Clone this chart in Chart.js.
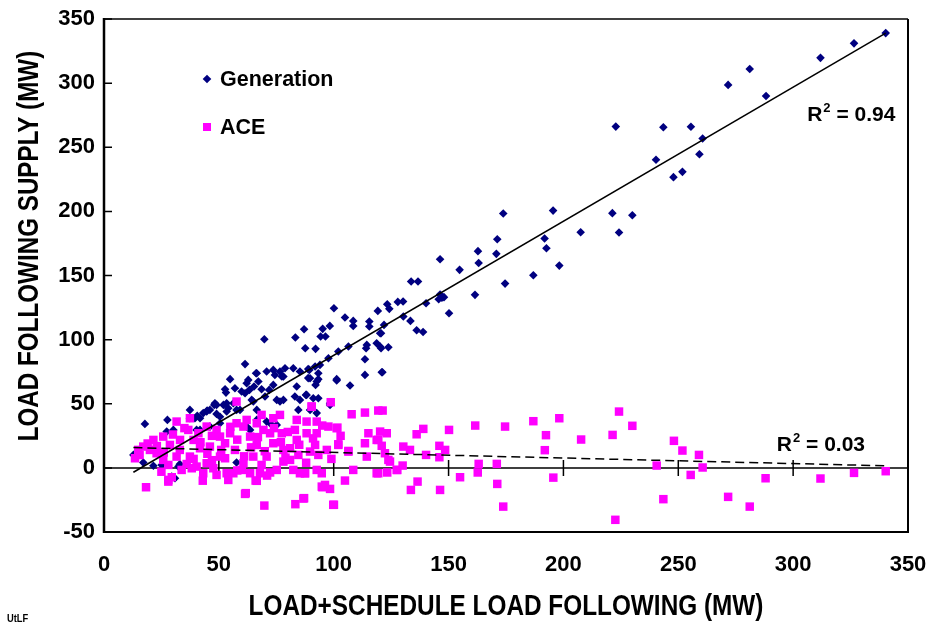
<!DOCTYPE html>
<html>
<head>
<meta charset="utf-8">
<script src="https://cdn.jsdelivr.net/npm/chart.js@4.4.1/dist/chart.umd.min.js"></script>
<style>
  html, body { margin: 0; padding: 0; background: #ffffff; }
  #wrap { width: 930px; height: 626px; position: relative; }
</style>
</head>
<body>
<div id="wrap"><canvas id="c" width="930" height="626"></canvas></div>
<script>
// ---------- DATA ----------
const generationX = [
  340.3, 326.5, 311.9, 281.1, 271.7, 288.2, 243.5, 255.5, 222.8, 260.6, 259.2, 240.3, 247.9, 251.8,
  173.8, 195.5, 221.3, 230.0, 207.5, 224.2, 171.2, 191.8, 192.6, 162.8, 170.8, 163.1, 198.2, 146.3,
  154.8, 186.9, 174.6, 161.5, 133.7, 136.7, 146.3, 147.1, 145.7, 148.0, 140.2, 150.2, 127.9, 130.2,
  123.3, 124.2, 130.3, 133.4, 136.1, 138.9, 121.9, 120.6, 123.8, 120.6, 121.2,
  100.1, 104.9, 108.5, 108.5, 115.5, 115.5, 119.2, 95.2, 87.1, 98.3, 94.3, 96.4, 83.3, 69.8, 87.6,
  92.1, 106.4, 102.0, 114.1, 114.4, 118.7, 120.2, 120.2, 113.6, 97.7, 94.0, 91.9, 88.9, 85.3, 82.4,
  78.8, 76.6, 73.7, 70.8, 66.2, 61.4, 120.9, 113.6, 101.3, 93.3, 88.9, 54.9, 62.8,
  17.8, 27.6, 30.2, 37.4, 40.6, 43.2, 44.9, 48.0, 49.0, 52.7, 57.0, 52.0, 54.1, 56.3, 57.7, 59.9,
  63.3, 64.3, 65.3, 67.2, 68.6, 70.1, 71.9, 73.7, 74.4, 75.2, 78.1, 78.1, 83.1, 83.9, 85.3, 87.9,
  89.4, 89.7, 91.1, 92.1, 92.6, 93.3, 98.4, 101.3, 107.1,
  40.3, 46.1, 50.5, 57.7, 17.1, 21.5, 33.0, 63.6, 72.3, 66.5,
  12.8, 25.1, 30.9, 29.5, 32.4, 27.3, 41.8, 44.7, 48.3, 53.4, 53.1, 62.1, 61.4, 66.5, 65.0, 59.2,
  76.6, 77.4, 88.2, 93.3, 84.6, 89.7, 92.6, 98.4,
  39.6, 41.8, 50.5, 53.4, 62.1, 66.5, 70.8, 75.2, 37.4, 46.1, 49.0
];
const generationY = [
  339.0, 331.0, 319.7, 311.0, 298.6, 290.0, 265.6, 266.0, 266.1, 256.8, 244.6, 240.2, 226.7, 230.8,
  198.3, 200.6, 198.6, 197.0, 183.7, 183.5, 178.3, 178.8, 171.3, 169.0, 166.9, 159.8, 157.7, 162.7,
  154.4, 150.2, 143.7, 134.9, 145.3, 145.3, 135.2, 132.6, 131.5, 133.1, 128.4, 120.6, 129.4, 129.7,
  127.6, 124.0, 118.0, 114.6, 107.3, 106.0, 111.5, 105.0, 94.1, 93.3, 74.6,
  124.5, 117.2, 114.6, 110.7, 114.1, 110.2, 122.4, 108.4, 108.1, 110.7, 102.4, 102.4, 101.6, 100.3, 93.3,
  92.8, 94.6, 90.7, 93.3, 95.9, 97.2, 94.6, 105.0, 84.7, 85.5, 80.3, 79.0, 77.0, 75.1, 77.7,
  77.7, 75.1, 76.4, 75.1, 73.8, 80.9, 74.6, 72.5, 69.2, 69.2, 70.0, 69.2, 68.6,
  34.3, 37.4, 29.6, 38.7, 40.6, 42.7, 44.7, 49.1, 42.1, 61.3, 62.1, 49.1, 46.5, 50.4, 45.2, 59.5,
  60.8, 53.0, 63.4, 67.3, 61.3, 55.6, 60.8, 64.7, 72.5, 53.0, 71.2, 53.0, 55.6, 63.4, 53.0, 56.9,
  76.4, 69.9, 54.3, 64.7, 67.3, 54.3, 50.4, 68.1, 64.2,
  29.6, 32.2, 34.8, 4.2, 4.1, 1.6, 2.9, 29.6, 34.8, 37.4,
  10.1, 2.3, -8.1, -6.8, 1.0, 28.3, 38.7, 43.9, 50.4, 50.4, 58.7, 66.0, 58.2, 73.8, 51.7, 45.2,
  51.7, 71.2, 56.9, 73.8, 45.2, 45.2, 42.7, 49.1,
  38.7, 29.6, 39.9, 43.9, 32.2, 45.2, 36.1, 33.5, 45.2, 45.2, 49.0
];
const aceX = [
  18.3, 28.0, 29.5, 57.7, 61.4, 66.0, 69.8, 83.3, 86.8, 100.1, 98.7, 107.8, 113.6, 119.4, 101.6,
  102.0, 106.4, 108.5, 104.9, 96.2, 98.4, 95.1, 92.6, 87.5, 82.4, 114.4, 115.1, 113.6, 118.7, 118.7,
  90.4, 92.6, 88.2, 83.9, 83.1, 83.9, 88.2, 92.6, 91.9, 93.3, 89.7, 84.6, 81.0, 78.1, 76.6, 73.7,
  77.4, 72.3, 73.7, 68.6, 69.4, 66.5, 62.1, 63.6, 66.5, 65.0, 70.8, 75.2, 72.3, 68.6, 60.7, 60.0,
  56.3, 53.4, 54.1, 50.5, 47.6, 44.7, 40.3, 38.2, 37.4, 33.8, 31.6, 28.0, 25.8, 22.9, 20.0, 14.9,
  13.5, 17.1, 21.5, 25.8, 31.6, 37.4, 36.7, 41.1, 44.7, 49.0, 50.5, 52.7, 54.9, 57.7, 60.7, 57.0,
  46.1, 41.8, 39.0, 33.1, 28.7, 52.7, 43.2, 49.0, 63.6, 67.9, 81.0, 78.1, 85.3, 97.0, 97.7,
  120.2, 123.1, 119.4, 123.8, 127.4, 119.4, 99.8, 87.1, 61.7, 66.5, 28.0, 94.8, 94.8, 87.5, 101.3,
  102.0, 106.4, 90.4,
  121.3, 120.9, 122.3, 124.5, 123.3, 127.7, 130.0, 130.3, 133.2, 136.1, 139.0, 140.2, 136.5, 133.6,
  146.0, 148.5, 146.0, 150.2, 146.3, 155.0, 161.6, 163.1, 162.7, 171.0, 171.2, 174.6, 173.8, 186.9,
  192.4, 191.9, 198.2, 195.6, 207.7, 221.4, 224.2, 230.0, 222.6, 240.6, 243.5, 248.1, 251.8, 259.0,
  260.6, 255.4, 271.7, 281.1, 288.0, 311.9, 326.5, 340.3,
  15.5, 19.0, 23.0, 26.0, 30.0, 33.0, 35.0, 39.0, 42.0, 45.0, 47.0, 51.0, 55.0, 58.0, 61.0, 64.0,
  67.0, 70.0, 74.0, 77.0, 80.0, 85.0, 88.0, 91.0, 95.0, 99.0, 103.0, 58.0, 47.0, 36.0, 25.0, 43.0,
  71.0, 79.0
];
const aceY = [
  -15.1, -9.4, -7.3, 51.7, -20.3, -9.9, -29.4, -28.3, -23.9, -28.8, 51.2, 41.8, 43.1, 44.7, 31.4,
  18.4, 13.2, -1.6, -9.9, -13.3, -16.4, -15.1, -1.6, -4.2, -1.6, 8.8, 27.0, 19.2, 21.8, -4.2,
  47.8, 36.1, 36.1, 37.4, 29.6, 21.8, 27.0, 27.0, 17.9, 10.1, 12.7, 10.1, 6.2, 4.9, 41.3, 38.7,
  27.0, 27.0, 19.2, 41.3, 29.6, 34.8, 37.4, 24.4, 17.9, 8.8, 8.8, -1.6, -3.6, 2.3, 3.6, -1.6,
  -4.2, -4.2, -9.4, 8.8, -0.3, 3.6, 1.0, -0.3, 8.8, -1.6, 8.8, 2.3, 6.2, 11.4, 14.0, 14.0,
  7.5, 16.6, 21.8, 24.4, 36.1, 38.7, 29.6, 27.0, 32.2, 29.6, 24.4, 19.2, 27.0, 34.8, 32.2, 14.0,
  16.6, 15.3, 21.8, 21.8, 17.9, 7.5, -4.2, -5.5, -4.2, -4.2, 15.3, 14.0, -4.2, 14.0, 32.2,
  28.3, 27.0, 21.8, 6.2, -1.6, -4.2, -28.8, -23.6, -19.7, -10.1, -10.7, -14.6, -4.2, -4.2, 30.9,
  17.9, 12.7, 47.8,
  44.7, 17.2, 11.4, 4.9, -3.6, -1.6, 1.8, 16.6, 14.0, 26.2, 30.4, 10.1, -10.7, -17.2,
  17.2, 14.0, 8.3, 29.6, -17.2, -7.3, 33.0, 3.1, -3.6, 3.1, -12.5, 32.2, -30.2, 36.4,
  25.5, 13.8, 38.7, -7.6, 22.1, 25.7, 43.9, 32.8, -40.5, 1.8, -24.4, 21.1, 13.5, 10.1,
  0.3, -5.5, -22.6, -30.2, -8.1, -8.3, -3.9, -2.6,
  10.0, 19.0, 17.0, 12.0, 26.0, 14.0, 31.0, 7.0, 20.0, 11.0, 25.0, 14.0, 32.0, 22.0, 9.0, 16.0,
  24.0, 13.0, 31.0, 20.0, 28.0, 18.0, 4.0, 23.0, 33.0, 7.0, 25.0, -2.0, 6.0, 3.0, -3.0, -10.0,
  -6.0, 8.0
];
// trend lines (end points)
const genTrendX = [12.8, 340.3];
const genTrendY = [-3.4, 339.0];
const aceTrendX = [12.8, 340.3];
const aceTrendY = [15.8, 1.6];
const xTicks = [0, 50, 100, 150, 200, 250, 300, 350];
const yTicks = [-50, 0, 50, 100, 150, 200, 250, 300, 350];
const seriesNames = ['Generation', 'ACE'];
const r2Labels = ['0.94', '0.03'];
const xTitle = 'LOAD+SCHEDULE LOAD FOLLOWING (MW)';
const yTitle = 'LOAD FOLLOWING SUPPLY (MW)';
const footNote = 'UtLF';

// ---------- build ----------
const NAVY = '#000080', MAG = '#FF00FF';
const SANS = "'Liberation Sans', Arial, sans-serif";
const zip = (xs, ys) => xs.map((v, i) => ({x: v, y: ys[i]}));

// draws condensed (horizontally squeezed) bold text like the original Arial Narrow
function narrowText(ctx, text, x, y, size, squeeze, rot) {
  ctx.save();
  ctx.translate(x, y);
  if (rot) ctx.rotate(rot);
  ctx.scale(squeeze, 1);
  ctx.font = 'bold ' + size + 'px ' + SANS;
  ctx.fillText(text, 0, 0);
  ctx.restore();
}

const decor = {
  id: 'decor',
  beforeDatasetsDraw(chart) {
    const {ctx, chartArea: a, scales: {x, y}} = chart;
    ctx.save();
    const y0 = y.getPixelForValue(0);
    ctx.strokeStyle = '#000';
    ctx.lineWidth = 1.5;
    ctx.beginPath();
    ctx.moveTo(a.left, y0); ctx.lineTo(a.right, y0);
    xTicks.forEach(v => {
      if (v <= 0) return;
      const px = x.getPixelForValue(v);
      ctx.moveTo(px, y0 - 8); ctx.lineTo(px, y0 + 8);
    });
    ctx.stroke();
    ctx.restore();
  },
  afterDatasetsDraw(chart) {
    const {ctx, chartArea: a, scales: {x, y}} = chart;
    ctx.save();
    // frame
    ctx.lineWidth = 2;
    ctx.strokeStyle = '#404040';
    ctx.beginPath(); ctx.moveTo(a.left, a.top); ctx.lineTo(a.right, a.top); ctx.stroke();
    ctx.strokeStyle = '#000';
    ctx.beginPath(); ctx.moveTo(a.right, a.top); ctx.lineTo(a.right, a.bottom); ctx.lineTo(a.left, a.bottom); ctx.stroke();
    ctx.lineWidth = 2.5;
    ctx.beginPath(); ctx.moveTo(a.left, a.top - 1); ctx.lineTo(a.left, a.bottom + 1); ctx.stroke();
    // inward y ticks
    ctx.lineWidth = 1.5;
    ctx.beginPath();
    yTicks.forEach(v => {
      const py = y.getPixelForValue(v);
      ctx.moveTo(a.left, py); ctx.lineTo(a.left + 8, py);
    });
    ctx.stroke();

    // legend
    const lx = 207;
    const ly = [79, 127];
    ctx.fillStyle = NAVY;
    ctx.beginPath();
    ctx.moveTo(lx - 4.3, ly[0]); ctx.lineTo(lx, ly[0] - 4.3); ctx.lineTo(lx + 4.3, ly[0]); ctx.lineTo(lx, ly[0] + 4.3);
    ctx.closePath(); ctx.fill();
    ctx.fillStyle = MAG;
    ctx.fillRect(lx - 4, ly[1] - 4, 8, 8);
    ctx.fillStyle = '#000';
    ctx.font = 'bold 21.5px ' + SANS;
    ctx.textBaseline = 'middle';
    ctx.textAlign = 'left';
    ctx.fillText(seriesNames[0], 220, ly[0] + 1);
    ctx.fillText(seriesNames[1], 220, ly[1] + 1);

    // R^2 labels, anchored in data coordinates
    const drawR2 = (vx, vy, val) => {
      let px = x.getPixelForValue(vx), py = y.getPixelForValue(vy);
      ctx.textBaseline = 'alphabetic';
      ctx.font = 'bold 21px ' + SANS;
      ctx.fillText('R', px, py);
      px += ctx.measureText('R').width + 1;
      ctx.font = 'bold 13px ' + SANS;
      ctx.fillText('2', px, py - 9);
      px += ctx.measureText('2').width;
      ctx.font = 'bold 21px ' + SANS;
      ctx.fillText(' = ' + val, px, py);
    };
    drawR2(306.1, 270.6, r2Labels[0]);
    drawR2(292.9, 13.3, r2Labels[1]);

    // axis titles (condensed bold)
    ctx.textAlign = 'center';
    ctx.textBaseline = 'middle';
    narrowText(ctx, xTitle, (a.left + a.right) / 2, 607, 29, 0.84, 0);
    narrowText(ctx, yTitle, 30, 246, 29, 0.835, -Math.PI / 2);
    // footnote
    ctx.textAlign = 'left';
    narrowText(ctx, footNote, 7, 619, 11, 0.85, 0);
    ctx.restore();
  }
};

new Chart(document.getElementById('c'), {
  type: 'scatter',
  data: {
    datasets: [
      { label: seriesNames[0], data: zip(generationX, generationY), order: 2,
        pointStyle: 'rectRot', radius: 4.3, backgroundColor: NAVY, borderColor: NAVY, borderWidth: 0 },
      { label: seriesNames[1], data: zip(aceX, aceY), order: 1,
        pointStyle: 'rect', radius: 6, backgroundColor: MAG, borderColor: MAG, borderWidth: 0 },
      { label: 'Generation trend', type: 'line', data: zip(genTrendX, genTrendY), order: 0,
        showLine: true, borderColor: '#000', borderWidth: 1.5, pointRadius: 0, fill: false },
      { label: 'ACE trend', type: 'line', data: zip(aceTrendX, aceTrendY), order: 0,
        showLine: true, borderColor: '#000', borderWidth: 1.5, borderDash: [9, 5], pointRadius: 0, fill: false }
    ]
  },
  options: {
    responsive: false,
    animation: false,
    events: [],
    layout: { padding: { top: 19, right: 22, left: 0, bottom: 0 } },
    plugins: { legend: { display: false }, tooltip: { enabled: false } },
    scales: {
      x: {
        type: 'linear', min: 0, max: 350,
        afterFit: s => { s.height = 94; s.paddingLeft = 0; s.paddingRight = 0; },
        afterBuildTicks: s => { s.ticks = xTicks.map(v => ({value: v})); },
        grid: { display: false, drawTicks: false },
        border: { display: false },
        ticks: { color: '#000', padding: 20, maxRotation: 0, autoSkip: false,
                 font: { family: SANS, size: 22, weight: 'bold' } }
      },
      y: {
        type: 'linear', min: -50, max: 350,
        afterFit: s => { s.width = 104; s.paddingTop = 0; s.paddingBottom = 0; },
        afterBuildTicks: s => { s.ticks = yTicks.map(v => ({value: v})); },
        grid: { display: false, drawTicks: false },
        border: { display: false },
        ticks: { color: '#000', padding: 9, autoSkip: false,
                 font: { family: SANS, size: 22, weight: 'bold' } }
      }
    }
  },
  plugins: [decor]
});
</script>
</body>
</html>
